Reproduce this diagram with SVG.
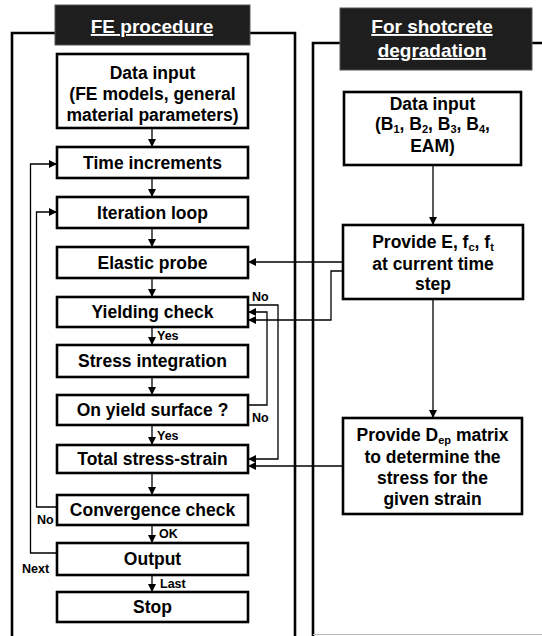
<svg xmlns="http://www.w3.org/2000/svg" width="542" height="636" viewBox="0 0 542 636">
<defs>
<marker id="ah" viewBox="0 0 10 10" refX="10" refY="5" markerWidth="8" markerHeight="8" markerUnits="userSpaceOnUse" orient="auto">
<path d="M0,0 L10,5 L0,10 Z" fill="#000"/>
</marker>
<style>
.frame{fill:none;stroke:#000;stroke-width:2.6}
.box{fill:#fff;stroke:#000;stroke-width:2.6}
.hdr{fill:#1e1e1e;stroke:#555;stroke-width:1}
.t{font-family:"Liberation Sans",Arial,sans-serif;font-weight:bold;font-size:17.5px;fill:#000;text-anchor:middle}
.h{font-family:"Liberation Sans",Arial,sans-serif;font-weight:bold;font-size:19px;fill:#fff;text-anchor:middle;text-decoration:underline}
.l{font-family:"Liberation Sans",Arial,sans-serif;font-weight:bold;font-size:12.5px;fill:#000}
.c{fill:none;stroke:#000;stroke-width:1.3}
.a{marker-end:url(#ah)}
.sub{font-size:11px}
</style>
</defs>
<rect width="542" height="636" fill="#fff"/>

<g id="frames">
<path class="frame" d="M12,636 V33 H295 V636"/>
<path class="frame" d="M313,636 V43 H542"/>
<line x1="313" y1="634.5" x2="542" y2="634.5" stroke="#bbb" stroke-width="1"/>
</g>

<g id="header-fe">
<rect class="hdr" x="55" y="5" width="195" height="40"/>
<text class="h" x="152" y="33">FE procedure</text>
</g>
<g id="header-shotcrete">
<rect class="hdr" x="340" y="8" width="192" height="62"/>
<text class="h" x="432" y="33">For shotcrete</text>
<text class="h" x="432" y="57">degradation</text>
</g>

<g id="connectors">
<line class="c a" x1="152" y1="128" x2="152" y2="147"/>
<line class="c a" x1="152" y1="178" x2="152" y2="197"/>
<line class="c a" x1="152" y1="228" x2="152" y2="247"/>
<line class="c a" x1="152" y1="278" x2="152" y2="297"/>
<line class="c a" x1="152" y1="327" x2="152" y2="345"/>
<line class="c a" x1="152" y1="377" x2="152" y2="395"/>
<line class="c a" x1="152" y1="425" x2="152" y2="445"/>
<line class="c a" x1="152" y1="473" x2="152" y2="495"/>
<line class="c a" x1="152" y1="525" x2="152" y2="543"/>
<line class="c a" x1="152" y1="575" x2="152" y2="592"/>
<path class="c a" d="M57,553 H30.5 V164 H57"/>
<path class="c a" d="M57,507 H36.5 V212 H57"/>
<path class="c a" d="M248,305 H278 V459 H248"/>
<path class="c a" d="M248,405 H267 V312 H248"/>
<path class="c a" d="M343,262 H248"/>
<path class="c a" d="M343,271 H331 V320 H248"/>
<path class="c a" d="M343,466 H248"/>
<line class="c a" x1="433" y1="165" x2="433" y2="225"/>
<line class="c a" x1="433" y1="299" x2="433" y2="418"/>
<text class="l" x="157" y="340">Yes</text>
<text class="l" x="157" y="440">Yes</text>
<text class="l" x="159" y="538">OK</text>
<text class="l" x="160" y="588">Last</text>
<text class="l" x="252" y="301">No</text>
<text class="l" x="252" y="422">No</text>
<text class="l" x="37" y="524">No</text>
<text class="l" x="22" y="573">Next</text>
</g>

<g id="fe-data-input">
<rect class="box" x="57" y="54" width="191" height="74"/>
<text class="t" x="152.5" y="79">Data input</text>
<text class="t" x="152.5" y="100">(FE models, general</text>
<text class="t" x="152.5" y="121">material parameters)</text>
</g>
<g id="time-increments">
<rect class="box" x="57" y="147" width="191" height="31"/>
<text class="t" x="152.5" y="169">Time increments</text>
</g>
<g id="iteration-loop">
<rect class="box" x="57" y="197" width="191" height="31"/>
<text class="t" x="152.5" y="219">Iteration loop</text>
</g>
<g id="elastic-probe">
<rect class="box" x="57" y="247" width="191" height="31"/>
<text class="t" x="152.5" y="269">Elastic probe</text>
</g>
<g id="yielding-check">
<rect class="box" x="57" y="297" width="191" height="30"/>
<text class="t" x="152.5" y="318">Yielding check</text>
</g>
<g id="stress-integration">
<rect class="box" x="57" y="345" width="191" height="32"/>
<text class="t" x="152.5" y="367">Stress integration</text>
</g>
<g id="on-yield-surface">
<rect class="box" x="57" y="395" width="191" height="30"/>
<text class="t" x="152.5" y="416">On yield surface ?</text>
</g>
<g id="total-stress-strain">
<rect class="box" x="57" y="445" width="191" height="28"/>
<text class="t" x="152.5" y="465">Total stress-strain</text>
</g>
<g id="convergence-check">
<rect class="box" x="57" y="495" width="191" height="30"/>
<text class="t" x="152.5" y="516">Convergence check</text>
</g>
<g id="output">
<rect class="box" x="57" y="543" width="191" height="32"/>
<text class="t" x="152.5" y="565">Output</text>
</g>
<g id="stop">
<rect class="box" x="57" y="592" width="191" height="30"/>
<text class="t" x="152.5" y="613">Stop</text>
</g>

<g id="shotcrete-data-input">
<rect class="box" x="344" y="92" width="177" height="73"/>
<text class="t" x="432.5" y="110">Data input</text>
<text class="t" x="432.5" y="130">(B<tspan class="sub" dy="3">1</tspan><tspan dy="-3">, B</tspan><tspan class="sub" dy="3">2</tspan><tspan dy="-3">, B</tspan><tspan class="sub" dy="3">3</tspan><tspan dy="-3">, B</tspan><tspan class="sub" dy="3">4</tspan><tspan dy="-3">,</tspan></text>
<text class="t" x="432.5" y="152">EAM)</text>
</g>
<g id="provide-e">
<rect class="box" x="343" y="225" width="180" height="74"/>
<text class="t" x="433" y="248">Provide E, f<tspan class="sub" dy="3">c</tspan><tspan dy="-3">, f</tspan><tspan class="sub" dy="3">t</tspan></text>
<text class="t" x="433" y="270">at current time</text>
<text class="t" x="433" y="290">step</text>
</g>
<g id="provide-dep">
<rect class="box" x="343" y="418" width="179" height="96"/>
<text class="t" x="432.5" y="441">Provide D<tspan class="sub" dy="3">ep</tspan><tspan dy="-3"> matrix</tspan></text>
<text class="t" x="432.5" y="463">to determine the</text>
<text class="t" x="432.5" y="484">stress for the</text>
<text class="t" x="432.5" y="505">given strain</text>
</g>
</svg>
